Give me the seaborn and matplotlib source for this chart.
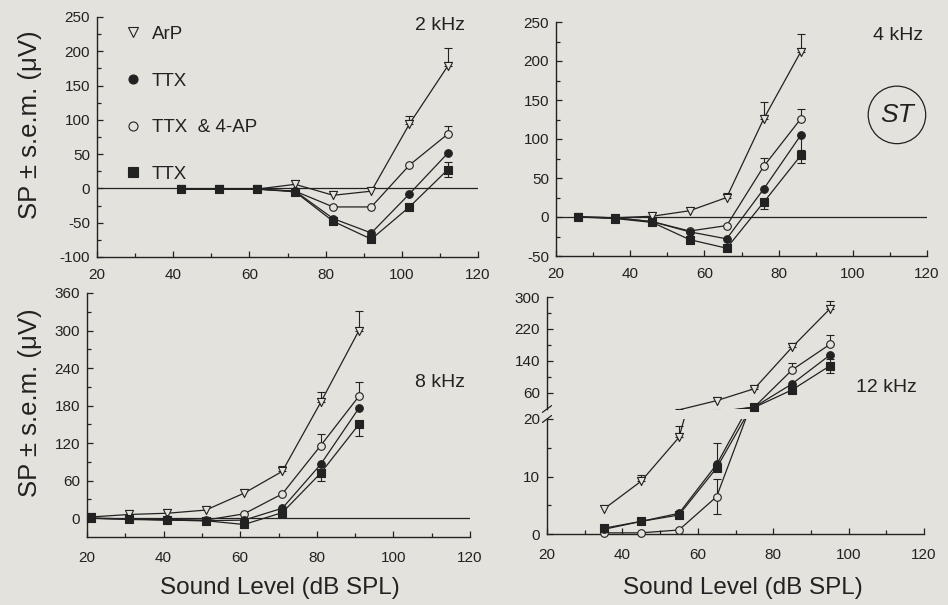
import matplotlib
matplotlib.use("Agg")
import matplotlib.pyplot as plt
from matplotlib.lines import Line2D
from matplotlib.ticker import MultipleLocator, FixedLocator
import pandas as pd
import seaborn as sns

# SP (microvolts), per stimulus frequency
# series: arp = ArP (open triangle), ap = TTX & 4-AP (open circle),
#         ttx = TTX (filled circle), sq = TTX (filled square)
lv_2k = [42, 52, 62, 72, 82, 92, 102, 112]
arp_2k = [-1, -1, -1, 6, -10, -4, 94, 178]
ap_2k = [-1, -1, -1, -4, -27, -27, 34, 79]
ttx_2k = [-1, -1, -1, -4, -44, -65, -8, 51]
sq_2k = [-1, -1, -1, -5, -48, -74, -27, 27]
arp_2k_up = [0, 0, 0, 0, 0, 0, 12, 27]
ap_2k_up = [0, 0, 0, 0, 0, 0, 0, 12]
sq_2k_up = [0, 0, 0, 0, 0, 0, 0, 11]
sq_2k_dn = [0, 0, 0, 0, 0, 0, 0, 11]

lv_4k = [26, 36, 46, 56, 66, 76, 86]
arp_4k = [0, -1, 1, 8, 25, 126, 212]
ap_4k = [0, -1, -6, -18, -11, 65, 126]
ttx_4k = [0, -1, -6, -19, -28, 36, 105]
sq_4k = [0, -2, -7, -29, -40, 19, 79]
arp_4k_up = [0, 0, 0, 0, 6, 21, 23]
ap_4k_up = [0, 0, 0, 0, 0, 11, 13]
ttx_4k_dn = [0, 0, 0, 0, 0, 0, 19]
sq_4k_dn = [0, 0, 0, 0, 0, 9, 10]

lv_8k = [21, 31, 41, 51, 61, 71, 81, 91]
arp_8k = [2, 6, 8, 13, 40, 75, 185, 300]
ap_8k = [0, -1, -2, -3, 7, 39, 116, 195]
ttx_8k = [0, -1, -3, -4, -3, 16, 86, 176]
sq_8k = [0, -2, -3, -4, -10, 9, 72, 150]
arp_8k_up = [0, 0, 0, 0, 0, 9, 17, 32]
ap_8k_up = [0, 0, 0, 0, 0, 0, 18, 22]
sq_8k_dn = [0, 0, 0, 0, 0, 0, 13, 19]

lv_12k = [35, 45, 55, 65, 75, 85, 95]
arp_12k = [4.3, 9.2, 16.8, 40, 70, 174, 270]
ap_12k = [0.2, 0.2, 0.7, 6.5, 24, 117, 181]
ttx_12k = [0.8, 2.2, 3.6, 12.1, 24, 82, 154]
sq_12k = [1.0, 2.2, 3.3, 11.5, 23, 67, 127]
arp_12k_up = [0, 1, 2, 0, 5, 10, 20]
ap_12k_up = [0, 0, 0, 3, 0, 18, 24]
ap_12k_dn = [0, 0, 0, 3, 0, 0, 0]
ttx_12k_up = [0, 0, 0, 3.8, 0, 0, 0]
sq_12k_up = [0, 0, 0, 0, 0, 0, 17]
sq_12k_dn = [0, 0, 0, 0, 0, 0, 17]

legend_labels = ["ArP", "TTX", "TTX  & 4-AP", "TTX"]

BG = "#e4e2dc"
INK = "#222222"
KEYS = ["arp", "ap", "ttx", "sq"]
MK = {"arp": "v", "ap": "o", "ttx": "o", "sq": "s"}
FILL = {"arp": BG, "ap": BG, "ttx": INK, "sq": INK}
SZ = {"arp": 34, "ap": 30, "ttx": 30, "sq": 28}

sns.set_theme(style="ticks")
plt.rcParams["font.family"] = ["Liberation Sans", "DejaVu Sans"]
plt.rcParams.update({
    "axes.unicode_minus": False,
    "axes.edgecolor": INK, "axes.linewidth": 1.0,
    "xtick.color": INK, "ytick.color": INK, "text.color": INK,
    "xtick.direction": "in", "ytick.direction": "in",
    "xtick.major.size": 4, "ytick.major.size": 4,
    "xtick.minor.size": 3, "ytick.minor.size": 3,
    "xtick.major.width": 0.9, "ytick.major.width": 0.9,
    "xtick.minor.width": 0.9, "ytick.minor.width": 0.9,
    "xtick.labelsize": 11, "ytick.labelsize": 11,
    "xtick.major.pad": 8, "ytick.major.pad": 5,
})

W, H = 948, 605
fig = plt.figure(figsize=(W / 100, H / 100), dpi=100)
fig.patch.set_facecolor(BG)


def px_axes(l, t, r, b):
    ax = fig.add_axes([l / W, 1 - b / H, (r - l) / W, (b - t) / H])
    ax.set_facecolor("none")
    sns.despine(ax=ax)
    return ax


def draw(ax, lv, ys, ups, dns, lo, hi):
    df = pd.concat([pd.DataFrame({"level": lv, "sp": y, "cond": k})
                    for k, y in zip(KEYS, ys)], ignore_index=True)
    sns.lineplot(data=df, x="level", y="sp", hue="cond", hue_order=KEYS,
                 palette=[INK] * 4, estimator=None, errorbar=None,
                 legend=False, lw=0.9, ax=ax)
    for k, y, up, dn in zip(KEYS, ys, ups, dns):
        up = up or [0] * len(lv)
        dn = dn or [0] * len(lv)
        idx = [i for i in range(len(lv)) if up[i] or dn[i]]
        if idx:
            ax.errorbar([lv[i] for i in idx], [y[i] for i in idx],
                        yerr=[[dn[i] for i in idx], [up[i] for i in idx]],
                        fmt="none", ecolor=INK, elinewidth=0.8, capsize=3,
                        capthick=0.8, zorder=2)
        pts = df[(df.cond == k) & (df.sp >= lo) & (df.sp <= hi)]
        sns.scatterplot(data=pts, x="level", y="sp", marker=MK[k], s=SZ[k],
                        color=FILL[k], edgecolor=INK, linewidth=0.8,
                        clip_on=False, zorder=4, legend=False, ax=ax)
    ax.set(xlabel="", ylabel="")


def xaxis(ax):
    ax.set_xlim(20, 120)
    ax.xaxis.set_major_locator(MultipleLocator(20))
    ax.xaxis.set_minor_locator(MultipleLocator(10))


# 2 kHz
ax1 = px_axes(97, 17, 478, 257)
draw(ax1, lv_2k, [arp_2k, ap_2k, ttx_2k, sq_2k],
     [arp_2k_up, ap_2k_up, None, sq_2k_up], [None, None, None, sq_2k_dn], -1e9, 1e9)
ax1.axhline(0, color=INK, lw=0.9, zorder=1)
ax1.set_ylim(-100, 250)
ax1.yaxis.set_major_locator(MultipleLocator(50))
ax1.yaxis.set_minor_locator(MultipleLocator(25))
xaxis(ax1)
ax1.text(0.966, 0.965, "2 kHz", transform=ax1.transAxes, ha="right", va="center", fontsize=14)
handles = [Line2D([], [], ls="none", marker=MK[k], mfc=FILL[k], mec=INK, mew=0.8, ms=6.5)
           for k in ["arp", "ttx", "ap", "sq"]]
ax1.legend(handles, legend_labels, loc="upper left", bbox_to_anchor=(0.075, 0.963),
           frameon=False, fontsize=13.5, handlelength=0.8, handletextpad=0.6,
           labelspacing=1.57, borderpad=0, borderaxespad=0)

# 4 kHz
ax2 = px_axes(556, 22, 927, 256)
draw(ax2, lv_4k, [arp_4k, ap_4k, ttx_4k, sq_4k],
     [arp_4k_up, ap_4k_up, None, None], [None, None, ttx_4k_dn, sq_4k_dn], -1e9, 1e9)
ax2.axhline(0, color=INK, lw=0.9, zorder=1)
ax2.set_ylim(-50, 250)
ax2.yaxis.set_major_locator(MultipleLocator(50))
ax2.yaxis.set_minor_locator(MultipleLocator(25))
xaxis(ax2)
ax2.text(0.99, 0.944, "4 kHz", transform=ax2.transAxes, ha="right", va="center", fontsize=14)
ax2.text(0.919, 0.603, "ST", transform=ax2.transAxes, ha="center", va="center",
         fontsize=19, style="italic",
         bbox=dict(boxstyle="circle,pad=0.45", fc="none", ec=INK, lw=0.9))

# 8 kHz
ax3 = px_axes(87, 293, 470, 537)
draw(ax3, lv_8k, [arp_8k, ap_8k, ttx_8k, sq_8k],
     [arp_8k_up, ap_8k_up, None, None], [None, None, None, sq_8k_dn], -1e9, 1e9)
ax3.axhline(0, color=INK, lw=0.9, zorder=1)
ax3.set_ylim(-30, 360)
ax3.yaxis.set_major_locator(FixedLocator([0, 60, 120, 180, 240, 300, 360]))
ax3.yaxis.set_minor_locator(FixedLocator([30, 90, 150, 210, 270, 330]))
xaxis(ax3)
ax3.text(0.987, 0.635, "8 kHz", transform=ax3.transAxes, ha="right", va="center", fontsize=14)

# 12 kHz, broken y axis
ys12 = [arp_12k, ap_12k, ttx_12k, sq_12k]
up12 = [arp_12k_up, ap_12k_up, ttx_12k_up, sq_12k_up]
dn12 = [None, ap_12k_dn, None, sq_12k_dn]
ax4u = px_axes(547, 297, 924, 409)
draw(ax4u, lv_12k, ys12, up12, dn12, 19, 1e9)
ax4u.set_ylim(19, 300)
ax4u.yaxis.set_major_locator(FixedLocator([60, 140, 220, 300]))
ax4u.yaxis.set_minor_locator(FixedLocator([100, 180, 260]))
ax4u.set_xlim(20, 120)
ax4u.spines["bottom"].set_visible(False)
ax4u.tick_params(axis="x", which="both", bottom=False, labelbottom=False)
ax4u.text(0.981, 0.196, "12 kHz", transform=ax4u.transAxes, ha="right", va="center", fontsize=14)

ax4l = px_axes(547, 419, 924, 534)
draw(ax4l, lv_12k, ys12, up12, dn12, -1e9, 20)
ax4l.set_ylim(0, 20)
ax4l.yaxis.set_major_locator(FixedLocator([0, 10, 20]))
ax4l.yaxis.set_minor_locator(FixedLocator([5, 15]))
xaxis(ax4l)
ax4l.tick_params(axis="x", which="major", pad=10)
ax3.tick_params(axis="x", which="major", pad=10)

# break marks on the left spine
for ax, yy in [(ax4u, 0.0), (ax4l, 1.0)]:
    ax.plot([-0.012, 0.012], [yy - 0.03, yy + 0.03], transform=ax.transAxes,
            color=INK, lw=0.9, clip_on=False)

# axis titles
for yc in [125, 403]:
    fig.text(30 / W, 1 - yc / H, "SP ± s.e.m. (μV)", rotation=90,
             ha="center", va="center", fontsize=18.5)
for xc in [280, 743]:
    fig.text(xc / W, 1 - 588 / H, "Sound Level (dB SPL)",
             ha="center", va="center", fontsize=17.5)

fig.savefig("out.png", dpi=100, facecolor=BG)
